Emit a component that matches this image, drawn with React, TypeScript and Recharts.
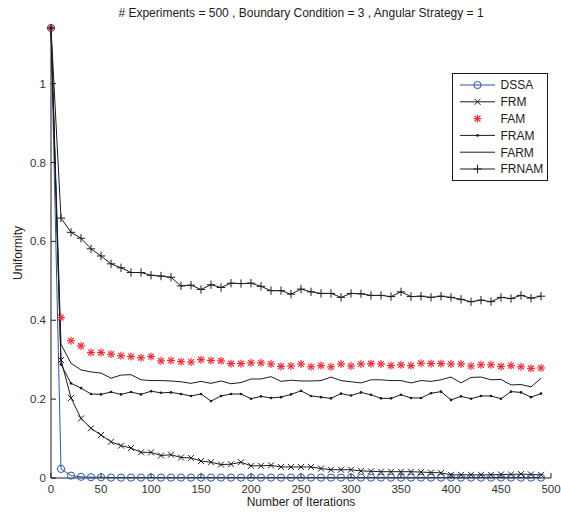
import { Label, Legend, Line, LineChart, XAxis, YAxis } from "recharts";

const iterations = [
  0, 10, 20, 30, 40, 50, 60, 70, 80, 90, 100, 110, 120, 130, 140, 150, 160, 170, 180, 190,
  200, 210, 220, 230, 240, 250, 260, 270, 280, 290, 300, 310, 320, 330, 340, 350, 360, 370,
  380, 390, 400, 410, 420, 430, 440, 450, 460, 470, 480, 490
];

const dssa = [
  1.141, 0.023, 0.006, 0.003, 0.002, 0.002, 0.001, 0.001, 0.001, 0.001, 0.001, 0.001, 0.001,
  0.001, 0.001, 0.001, 0.001, 0.001, 0.001, 0.001, 0.001, 0.001, 0.001, 0.001, 0.001, 0.001,
  0.001, 0.001, 0.001, 0.001, 0.001, 0.001, 0.001, 0.001, 0.001, 0.001, 0.001, 0.001, 0.001,
  0.001, 0.001, 0.001, 0.001, 0.001, 0.001, 0.001, 0.001, 0.001, 0.001, 0.001
];

const frm = [
  1.141, 0.299, 0.203, 0.151, 0.126, 0.109, 0.092, 0.082, 0.076, 0.065, 0.065, 0.057, 0.059,
  0.052, 0.051, 0.043, 0.04, 0.034, 0.035, 0.04, 0.031, 0.031, 0.032, 0.028, 0.028, 0.028,
  0.028, 0.024, 0.021, 0.021, 0.021, 0.018, 0.017, 0.016, 0.016, 0.016, 0.016, 0.015, 0.014,
  0.013, 0.008, 0.008, 0.008, 0.008, 0.008, 0.009, 0.009, 0.01, 0.009, 0.008
];

const fam = [
  1.141, 0.407, 0.348, 0.335, 0.318, 0.318, 0.314, 0.31, 0.308, 0.305, 0.308, 0.297, 0.298,
  0.295, 0.294, 0.3, 0.298, 0.297, 0.29, 0.29, 0.292, 0.292, 0.289, 0.283, 0.284, 0.289, 0.282,
  0.285, 0.282, 0.289, 0.284, 0.289, 0.29, 0.289, 0.285, 0.287, 0.285, 0.291, 0.29, 0.29,
  0.289, 0.289, 0.284, 0.287, 0.287, 0.283, 0.285, 0.282, 0.278, 0.279
];

const fram = [
  1.141, 0.288, 0.24, 0.228, 0.213, 0.212, 0.218, 0.212, 0.218, 0.212, 0.22, 0.216, 0.217,
  0.213, 0.208, 0.213, 0.195, 0.208, 0.213, 0.213, 0.201, 0.207, 0.203, 0.205, 0.212, 0.221,
  0.208, 0.205, 0.202, 0.214, 0.209, 0.217, 0.211, 0.202, 0.202, 0.211, 0.203, 0.203, 0.215,
  0.219, 0.198, 0.207, 0.201, 0.208, 0.208, 0.201, 0.219, 0.217, 0.205, 0.214
];

const farm = [
  1.141, 0.339, 0.291, 0.274, 0.269, 0.266, 0.253, 0.261, 0.262, 0.249, 0.247, 0.247, 0.246,
  0.244, 0.24, 0.245, 0.24, 0.246, 0.239, 0.242, 0.251, 0.251, 0.257, 0.245, 0.248, 0.246,
  0.246, 0.247, 0.256, 0.247, 0.244, 0.241, 0.249, 0.249, 0.247, 0.247, 0.241, 0.247, 0.245,
  0.249, 0.256, 0.241, 0.255, 0.256, 0.249, 0.25, 0.236, 0.237, 0.231, 0.253
];

const frnam = [
  1.141, 0.659, 0.623, 0.608, 0.581, 0.563, 0.543, 0.533, 0.521, 0.521, 0.514, 0.512, 0.509,
  0.487, 0.489, 0.478, 0.49, 0.483, 0.494, 0.493, 0.494, 0.486, 0.475, 0.475, 0.466, 0.479,
  0.472, 0.468, 0.468, 0.458, 0.468, 0.467, 0.463, 0.463, 0.46, 0.472, 0.46, 0.461, 0.458,
  0.461, 0.458, 0.453, 0.447, 0.451, 0.447, 0.458, 0.455, 0.463, 0.456, 0.461
];

const xTicks = [0, 50, 100, 150, 200, 250, 300, 350, 400, 450, 500];
const yTicks = [0, 0.2, 0.4, 0.6, 0.8, 1];
const seriesNames = ["DSSA", "FRM", "FAM", "FRAM", "FARM", "FRNAM"];

const data = iterations.map((it, i) => ({
  it,
  DSSA: dssa[i],
  FRM: frm[i],
  FAM: fam[i],
  FRAM: fram[i],
  FARM: farm[i],
  FRNAM: frnam[i]
}));

const ink = "#1c1c1c";
const blue = "#2c55a8";
const red = "#f02d3a";
const font = "'Liberation Sans', Arial, Helvetica, sans-serif";

// matlab style markers
function Marker({ kind, cx, cy }: { kind: string; cx: number; cy: number }) {
  if (kind === "DSSA") {
    return <circle cx={cx} cy={cy} r={3.6} fill="none" stroke={blue} strokeWidth={1} />;
  }
  if (kind === "FRM") {
    const s = 3;
    return (
      <g stroke={ink} strokeWidth={1}>
        <line x1={cx - s} y1={cy - s} x2={cx + s} y2={cy + s} />
        <line x1={cx - s} y1={cy + s} x2={cx + s} y2={cy - s} />
      </g>
    );
  }
  if (kind === "FAM") {
    const s = 4;
    const d = 2.9;
    return (
      <g stroke={red} strokeWidth={1.2}>
        <line x1={cx - s} y1={cy} x2={cx + s} y2={cy} />
        <line x1={cx} y1={cy - s} x2={cx} y2={cy + s} />
        <line x1={cx - d} y1={cy - d} x2={cx + d} y2={cy + d} />
        <line x1={cx - d} y1={cy + d} x2={cx + d} y2={cy - d} />
      </g>
    );
  }
  if (kind === "FRAM") {
    return <circle cx={cx} cy={cy} r={1.3} fill={ink} />;
  }
  if (kind === "FRNAM") {
    const s = 4.2;
    return (
      <g stroke={ink} strokeWidth={1}>
        <line x1={cx - s} y1={cy} x2={cx + s} y2={cy} />
        <line x1={cx} y1={cy - s} x2={cx} y2={cy + s} />
      </g>
    );
  }
  return <g />;
}

function dotFor(kind: string) {
  return (props: any) => (
    <Marker key={`${kind}-${props.index}`} kind={kind} cx={props.cx} cy={props.cy} />
  );
}

function MatlabLegend() {
  return (
    <svg width={96} height={108} style={{ display: "block" }}>
      <rect x={0.5} y={0.5} width={95} height={107} fill="#fff" stroke={ink} strokeWidth={1} />
      {seriesNames.map((name, i) => {
        const y = 12 + i * 16.8;
        return (
          <g key={name}>
            {name !== "FAM" && (
              <line x1={8} x2={43} y1={y} y2={y} stroke={name === "DSSA" ? blue : ink} strokeWidth={1} />
            )}
            <Marker kind={name} cx={25.5} cy={y} />
            <text x={48.5} y={y + 4.3} fontSize={12} fill={ink} fontFamily={font}>
              {name}
            </text>
          </g>
        );
      })}
    </svg>
  );
}

export default function App() {
  return (
    <div
      style={{
        position: "absolute",
        left: 0,
        top: 0,
        width: 561,
        height: 512,
        background: "#fff",
        fontFamily: font
      }}
    >
      <div
        style={{
          position: "absolute",
          left: 51,
          width: 500,
          top: 6,
          textAlign: "center",
          fontSize: 12,
          color: ink,
          whiteSpace: "nowrap"
        }}
      >
        # Experiments = 500 , Boundary Condition = 3 , Angular Strategy = 1
      </div>
      <LineChart width={561} height={512} data={data} margin={{ top: 28, right: 10, left: 0, bottom: 0 }}>
        <XAxis
          dataKey="it"
          type="number"
          domain={[0, 500]}
          ticks={xTicks}
          interval={0}
          height={34}
          tickSize={-5}
          tickMargin={12}
          stroke={ink}
          tick={{ fill: "#333", fontSize: 11.5, fontFamily: font }}
        >
          <Label value="Number of Iterations" position="insideBottom" offset={6} fill={ink} fontSize={12} />
        </XAxis>
        <XAxis
          xAxisId="top"
          dataKey="it"
          type="number"
          orientation="top"
          domain={[0, 500]}
          ticks={xTicks}
          interval={0}
          height={0}
          tickSize={-5}
          tick={false}
          stroke={ink}
        />
        <YAxis
          type="number"
          domain={[0, 1.141]}
          ticks={yTicks}
          interval={0}
          width={51}
          tickSize={-5}
          tickMargin={10}
          stroke={ink}
          tick={{ fill: "#333", fontSize: 11.5, fontFamily: font }}
        >
          <Label
            value="Uniformity"
            angle={-90}
            position="insideLeft"
            offset={18}
            fill={ink}
            fontSize={12}
            style={{ textAnchor: "middle" }}
          />
        </YAxis>
        <YAxis
          yAxisId="right"
          type="number"
          orientation="right"
          domain={[0, 1.141]}
          ticks={yTicks}
          interval={0}
          width={0}
          tickSize={-5}
          tick={false}
          stroke={ink}
        />
        <Legend
          content={() => <MatlabLegend />}
          layout="horizontal"
          verticalAlign="middle"
          align="center"
          wrapperStyle={{ left: 452, top: 73, width: 96, height: 108 }}
        />
        <Line dataKey="DSSA" stroke={blue} strokeWidth={1} dot={dotFor("DSSA")} activeDot={false} isAnimationActive={false} />
        <Line dataKey="FRM" stroke={ink} strokeWidth={1} dot={dotFor("FRM")} activeDot={false} isAnimationActive={false} />
        <Line dataKey="FAM" stroke="none" dot={dotFor("FAM")} activeDot={false} isAnimationActive={false} />
        <Line dataKey="FRAM" stroke={ink} strokeWidth={1} dot={dotFor("FRAM")} activeDot={false} isAnimationActive={false} />
        <Line dataKey="FARM" stroke={ink} strokeWidth={1} dot={false} activeDot={false} isAnimationActive={false} />
        <Line dataKey="FRNAM" stroke={ink} strokeWidth={1} dot={dotFor("FRNAM")} activeDot={false} isAnimationActive={false} />
      </LineChart>
    </div>
  );
}
